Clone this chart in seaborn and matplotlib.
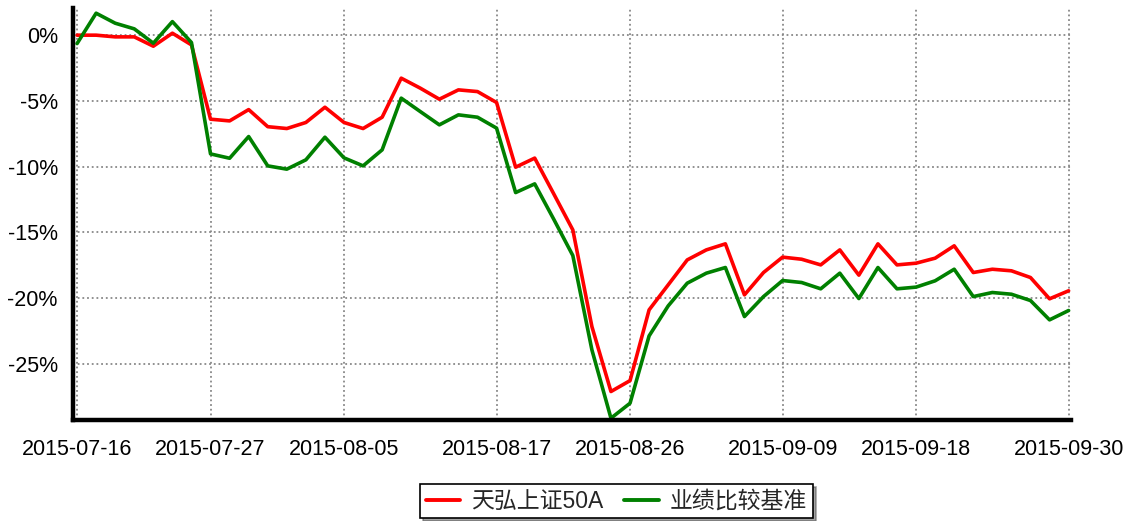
import numpy as np
import pandas as pd
import matplotlib
matplotlib.use('Agg')
import matplotlib.pyplot as plt
import matplotlib.ticker as mticker
import seaborn as sns

# --- Data (cumulative return, %) ---
dates = ['2015-07-16', '2015-07-17', '2015-07-20', '2015-07-21', '2015-07-22',
         '2015-07-23', '2015-07-24', '2015-07-27', '2015-07-28', '2015-07-29',
         '2015-07-30', '2015-07-31', '2015-08-03', '2015-08-04', '2015-08-05',
         '2015-08-06', '2015-08-07', '2015-08-10', '2015-08-11', '2015-08-12',
         '2015-08-13', '2015-08-14', '2015-08-17', '2015-08-18', '2015-08-19',
         '2015-08-20', '2015-08-21', '2015-08-24', '2015-08-25', '2015-08-26',
         '2015-08-27', '2015-08-28', '2015-08-31', '2015-09-01', '2015-09-02',
         '2015-09-07', '2015-09-08', '2015-09-09', '2015-09-10', '2015-09-11',
         '2015-09-14', '2015-09-15', '2015-09-16', '2015-09-17', '2015-09-18',
         '2015-09-21', '2015-09-22', '2015-09-23', '2015-09-24', '2015-09-25',
         '2015-09-28', '2015-09-29', '2015-09-30']

fund = [0.00, 0.00, -0.13, -0.13, -0.84, 0.15, -0.74, -6.39, -6.52, -5.66,
        -6.96, -7.10, -6.64, -5.48, -6.64, -7.10, -6.24, -3.27, -4.03, -4.87,
        -4.16, -4.29, -5.12, -10.04, -9.35, -12.07, -14.81, -22.16, -27.10, -26.27,
        -20.89, -18.99, -17.09, -16.33, -15.87, -19.75, -18.05, -16.88, -17.04, -17.47,
        -16.33, -18.25, -15.87, -17.47, -17.34, -16.96, -16.02, -18.05, -17.80, -17.92,
        -18.43, -20.05, -19.44]

benchmark = [-0.64, 1.67, 0.91, 0.48, -0.61, 1.03, -0.56, -9.03, -9.36, -7.71,
             -9.94, -10.19, -9.48, -7.76, -9.33, -9.94, -8.72, -4.79, -5.81, -6.82,
             -6.06, -6.24, -7.07, -11.97, -11.31, -14.00, -16.76, -23.93, -29.13, -27.99,
             -22.87, -20.59, -18.86, -18.10, -17.67, -21.40, -19.88, -18.66, -18.81, -19.29,
             -18.10, -20.03, -17.67, -19.29, -19.16, -18.68, -17.80, -19.88, -19.57, -19.70,
             -20.18, -21.65, -20.94]

series_names = ['天弘上证50A', '业绩比较基准']
colors = ['#ff0000', '#008000']
tick_dates = ['2015-07-16', '2015-07-27', '2015-08-05', '2015-08-17',
              '2015-08-26', '2015-09-09', '2015-09-18', '2015-09-30']

# --- Build long-form table for seaborn ---
idx = np.arange(len(dates))
df = pd.DataFrame({
    'idx': np.concatenate([idx, idx]),
    'value': fund + benchmark,
    'series': [series_names[0]] * len(dates) + [series_names[1]] * len(dates),
})

sns.set_style('white')
plt.rcParams['font.family'] = ['Liberation Sans', 'Noto Sans CJK SC', 'DejaVu Sans']
plt.rcParams['axes.unicode_minus'] = False

fig = plt.figure(figsize=(11.29, 5.21), dpi=100)
ax = fig.add_axes([0.0647, 0.194, 0.8835, 0.791])

sns.lineplot(data=df, x='idx', y='value', hue='series', hue_order=series_names,
             palette=colors, linewidth=2.6, ax=ax, legend=False, zorder=3)

ax.set_xlim(-0.21, 52.1)
ax.set_ylim(-29.26, 2.08)

# x ticks on the trading-day index
major_pos = [dates.index(d) for d in tick_dates]
ax.set_xticks(major_pos)
ax.set_xticklabels(tick_dates)
minor_pos = []
for a, b in zip(major_pos[:-1], major_pos[1:]):
    minor_pos += list(np.linspace(a, b, 5)[1:-1])
ax.set_xticks(minor_pos, minor=True)

ax.yaxis.set_major_locator(mticker.MultipleLocator(5))
ax.yaxis.set_minor_locator(mticker.MultipleLocator(1.25))
ax.yaxis.set_major_formatter(mticker.FuncFormatter(
    lambda v, p: '0%' if abs(v) < 1e-9 else f'{v:.0f}%'))

ax.grid(True, which='major', linestyle=(0, (1, 1.6)), color='#888888', linewidth=1.3)
ax.set_xlabel('')
ax.set_ylabel('')

for s in ['top', 'right']:
    ax.spines[s].set_visible(False)
for s in ['left', 'bottom']:
    ax.spines[s].set_color('black')
    ax.spines[s].set_linewidth(3.2)
    ax.spines[s].set_zorder(4)

ax.tick_params(axis='both', which='major', direction='out', length=6, width=1.2,
               color='#999999', labelsize=15.5, labelcolor='black', pad=5)
ax.tick_params(axis='both', which='minor', direction='out', length=4, width=1.2,
               color='#999999')
ax.tick_params(axis='x', which='major', pad=8)

handles = [plt.Line2D([], [], color=c, linewidth=2.8) for c in colors]
leg = fig.legend(handles, series_names, loc='center', bbox_to_anchor=(0.546, 0.038),
                 ncol=2, frameon=True, fancybox=False, shadow=True,
                 fontsize=16.5, handlelength=1.5, handletextpad=0.5,
                 columnspacing=0.9, borderpad=0.25)
leg.get_frame().set_edgecolor('black')
leg.get_frame().set_linewidth(1.2)

fig.savefig('out.png', dpi=100)
